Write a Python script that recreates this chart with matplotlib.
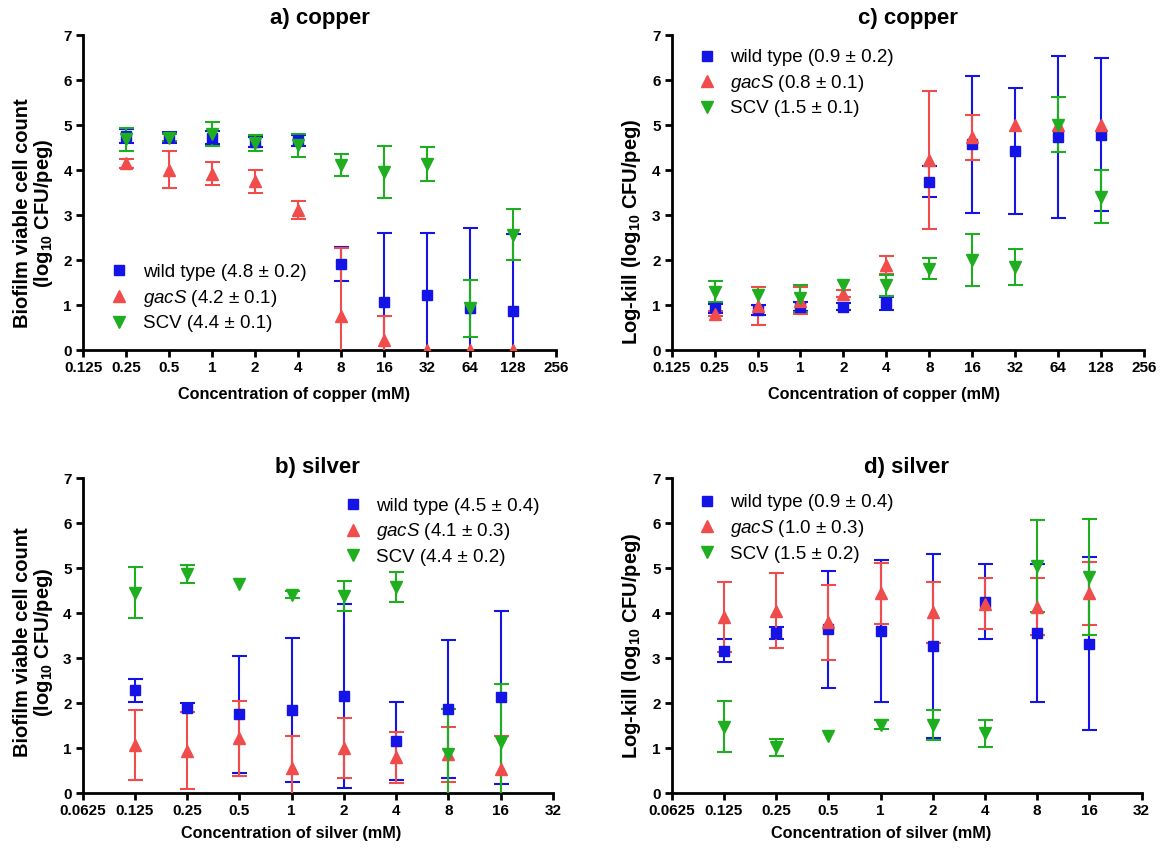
import numpy as np
import matplotlib
matplotlib.use("Agg")
import matplotlib.pyplot as plt
from matplotlib.lines import Line2D

plt.rcParams['font.family'] = ['Liberation Sans', 'DejaVu Sans']
plt.rcParams['mathtext.fontset'] = 'custom'
plt.rcParams['mathtext.rm'] = 'Liberation Sans'
plt.rcParams['mathtext.it'] = 'Liberation Sans:italic'
plt.rcParams['mathtext.bf'] = 'Liberation Sans:bold'

nan = np.nan

# ---- copper series ----
conc_cu = [0.25, 0.5, 1, 2, 4, 8, 16, 32, 64, 128]
cu_ticks = [0.125, 0.25, 0.5, 1, 2, 4, 8, 16, 32, 64, 128, 256]
cu_tick_labels = ["0.125", "0.25", "0.5", "1", "2", "4", "8", "16", "32", "64", "128", "256"]

a_wt = [4.76, 4.73, 4.72, 4.63, 4.66, 1.91, 1.07, 1.22, 0.93, 0.87]
a_wt_sd = [0.15, 0.12, 0.15, 0.11, 0.12, 0.37, 1.53, 1.38, 1.78, 1.70]
a_gacs = [4.15, 4.01, 3.92, 3.75, 3.12, 0.75, 0.22, 0.0, 0.0, 0.0]
a_gacs_sd = [0.10, 0.42, 0.25, 0.25, 0.20, 1.52, 0.53, nan, nan, nan]
a_scv = [4.68, 4.72, 4.80, 4.60, 4.55, 4.11, 3.96, 4.13, 0.93, 2.56]
a_scv_sd = [0.26, 0.08, 0.27, 0.18, 0.26, 0.24, 0.58, 0.38, 0.63, 0.57]

c_wt = [0.93, 0.89, 0.96, 0.96, 1.04, 3.74, 4.57, 4.42, 4.73, 4.78]
c_wt_sd = [0.10, 0.11, 0.10, 0.08, 0.14, 0.35, 1.52, 1.40, 1.80, 1.70]
c_gacs = [0.81, 0.98, 1.10, 1.25, 1.89, 4.22, 4.73, 5.0, 5.0, 5.0]
c_gacs_sd = [0.05, 0.42, 0.30, 0.08, 0.21, 1.54, 0.50, nan, nan, nan]
c_scv = [1.30, 1.22, 1.15, 1.44, 1.44, 1.81, 2.00, 1.84, 5.01, 3.41]
c_scv_sd = [0.24, nan, 0.30, nan, 0.23, 0.24, 0.58, 0.40, 0.62, 0.58]

# ---- silver series ----
conc_ag = [0.125, 0.25, 0.5, 1, 2, 4, 8, 16]
ag_ticks = [0.0625, 0.125, 0.25, 0.5, 1, 2, 4, 8, 16, 32]
ag_tick_labels = ["0.0625", "0.125", "0.25", "0.5", "1", "2", "4", "8", "16", "32"]

b_wt = [2.29, 1.90, 1.76, 1.85, 2.16, 1.16, 1.87, 2.13]
b_wt_sd = [0.26, 0.10, 1.30, 1.60, 2.05, 0.86, 1.54, 1.93]
b_gacs = [1.07, 0.95, 1.22, 0.56, 1.00, 0.80, 0.87, 0.55]
b_gacs_sd = [0.78, 0.85, 0.83, 0.71, 0.67, 0.56, 0.61, 0.72]
b_scv = [4.46, 4.88, 4.65, 4.41, 4.38, 4.59, 0.87, 1.15]
b_scv_sd = [0.57, 0.20, nan, 0.08, 0.33, 0.33, 1.00, 1.27]

d_wt = [3.17, 3.57, 3.64, 3.61, 3.27, 4.26, 3.57, 3.32]
d_wt_sd = [0.26, 0.13, 1.30, 1.57, 2.05, 0.83, 1.53, 1.92]
d_gacs = [3.91, 4.06, 3.80, 4.44, 4.02, 4.21, 4.15, 4.44]
d_gacs_sd = [0.78, 0.83, 0.83, 0.68, 0.68, 0.57, 0.63, 0.70]
d_scv = [1.48, 1.02, 1.27, 1.52, 1.52, 1.33, 5.05, 4.80]
d_scv_sd = [0.57, 0.18, nan, 0.10, 0.34, 0.30, 1.03, 1.29]

# ---- legend texts ----
a_legend = ["wild type (4.8 ± 0.2)", r"$\mathit{gacS}$ (4.2 ± 0.1)", "SCV (4.4 ± 0.1)"]
c_legend = ["wild type (0.9 ± 0.2)", r"$\mathit{gacS}$ (0.8 ± 0.1)", "SCV (1.5 ± 0.1)"]
b_legend = ["wild type (4.5 ± 0.4)", r"$\mathit{gacS}$ (4.1 ± 0.3)", "SCV (4.4 ± 0.2)"]
d_legend = ["wild type (0.9 ± 0.4)", r"$\mathit{gacS}$ (1.0 ± 0.3)", "SCV (1.5 ± 0.2)"]

BLUE = "#1414e6"
RED = "#f04c4c"
GREEN = "#1fae1f"
styles = [(BLUE, "s", 6.5), (RED, "^", 8), (GREEN, "v", 8)]

biofilm_label = "Biofilm viable cell count\n(log$_{\\mathbf{10}}$ CFU/peg)"
kill_label = "Log-kill (log$_{\\mathbf{10}}$ CFU/peg)"

fig = plt.figure(figsize=(11.6, 8.5), dpi=100)


def panel(rect, x, series, ticks, tick_labels, title, xlabel, ylabel,
          legend_labels, legend_anchor, ylab_pos, xlab_pos, title_pad):
    ax = fig.add_axes(rect)
    for (y, sd), (col, mk, ms) in zip(series, styles):
        ax.errorbar(x, y, yerr=sd, fmt=mk, color=col, ms=ms, mec=col,
                    ecolor=col, elinewidth=1.5, capsize=5.4, capthick=1.5,
                    zorder=3)
    ax.set_xscale("log", base=2)
    ax.set_xlim(ticks[0], ticks[-1])
    ax.set_ylim(0, 7)
    ax.set_xticks(ticks)
    ax.set_xticklabels(tick_labels)
    ax.xaxis.set_minor_locator(matplotlib.ticker.NullLocator())
    ax.set_yticks(range(0, 8))
    for s in ("top", "right"):
        ax.spines[s].set_visible(False)
    for s in ("left", "bottom"):
        ax.spines[s].set_linewidth(2.0)
    ax.tick_params(direction="out", length=5, width=2, labelsize=11, pad=3)
    for lab in ax.get_xticklabels() + ax.get_yticklabels():
        lab.set_fontweight("bold")
    ax.set_title(title, fontsize=16, fontweight="bold", pad=title_pad)
    ax.set_xlabel(xlabel, fontsize=11.7, fontweight="bold")
    ax.set_ylabel(ylabel, fontsize=14.5, fontweight="bold", linespacing=1.0)
    ax.xaxis.set_label_coords(*xlab_pos)
    ax.yaxis.set_label_coords(*ylab_pos)
    handles = [Line2D([], [], ls="none", marker=mk, color=col, ms=ms)
               for col, mk, ms in styles]
    ax.legend(handles, legend_labels, loc="center left",
              bbox_to_anchor=legend_anchor, frameon=False, fontsize=13.5,
              handlelength=1.0, handletextpad=0.75, labelspacing=0.35,
              borderpad=0, borderaxespad=0)
    return ax


panel([0.0716, 0.5882, 0.4078, 0.3706], conc_cu,
      [(a_wt, a_wt_sd), (a_gacs, a_gacs_sd), (a_scv, a_scv_sd)],
      cu_ticks, cu_tick_labels, "a) copper", "Concentration of copper (mM)",
      biofilm_label, a_legend, (0.057, 0.165), (-0.059, 0.435), (0.446, -0.117), 8)

panel([0.5790, 0.5882, 0.4072, 0.3706], conc_cu,
      [(c_wt, c_wt_sd), (c_gacs, c_gacs_sd), (c_scv, c_scv_sd)],
      cu_ticks, cu_tick_labels, "c) copper", "Concentration of copper (mM)",
      kill_label, c_legend, (0.055, 0.847), (-0.061, 0.375), (0.45, -0.117), 8)

panel([0.0713, 0.0667, 0.4052, 0.3706], conc_ag,
      [(b_wt, b_wt_sd), (b_gacs, b_gacs_sd), (b_scv, b_scv_sd)],
      ag_ticks, ag_tick_labels, "b) silver", "Concentration of silver (mM)",
      biofilm_label, b_legend, (0.555, 0.830), (-0.059, 0.48), (0.443, -0.104), 4)

panel([0.5790, 0.0667, 0.4052, 0.3706], conc_ag,
      [(d_wt, d_wt_sd), (d_gacs, d_gacs_sd), (d_scv, d_scv_sd)],
      ag_ticks, ag_tick_labels, "d) silver", "Concentration of silver (mM)",
      kill_label, d_legend, (0.055, 0.841), (-0.061, 0.47), (0.445, -0.104), 4)

fig.savefig("out.png", dpi=100, facecolor="white")
